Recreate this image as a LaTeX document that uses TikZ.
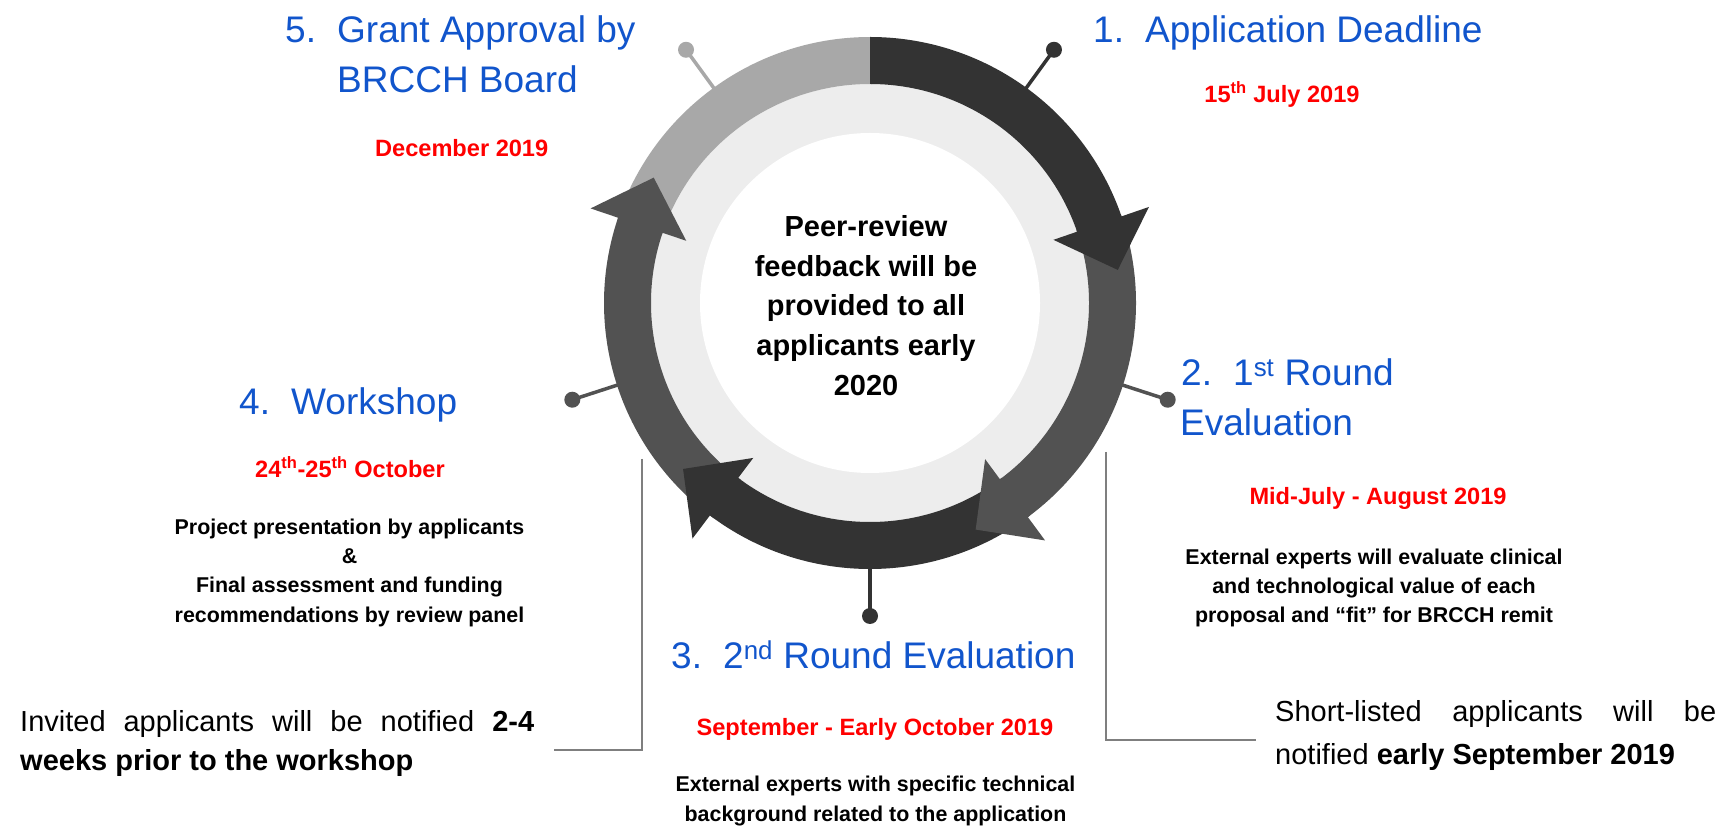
\documentclass[tikz,border=0pt]{standalone}
\usepackage{fontspec}
\setmainfont{Liberation Sans}
\definecolor{segdark}{HTML}{333333}
\definecolor{segmid}{HTML}{525252}
\definecolor{seglight}{HTML}{A8A8A8}
\definecolor{innerring}{HTML}{EDEDED}
\definecolor{titleblue}{HTML}{1155CC}
\definecolor{datered}{HTML}{FF0000}
\definecolor{bracketgray}{HTML}{7F7F7F}
\tikzset{
 titletext/.style={anchor=base west, inner sep=0pt, text=titleblue, font=\fontsize{37}{44}\selectfont},
 datetext/.style={anchor=base, inner sep=0pt, text=datered, font=\bfseries\fontsize{23.6}{28}\selectfont},
 desctext/.style={anchor=base, inner sep=0pt, font=\bfseries\fontsize{21.4}{26}\selectfont},
 centertext/.style={anchor=base, inner sep=0pt, font=\bfseries\fontsize{29}{34}\selectfont},
 notetext/.style={anchor=base west, inner sep=0pt, font=\fontsize{29}{34}\selectfont},
 dotnode/.style={circle, inner sep=0pt, minimum size=16pt},
 stemline/.style={line width=3.5pt},
 bracket/.style={draw=bracketgray, line width=2pt},
}
\newcommand{\numlabel}[1]{\makebox[52pt][l]{#1}}
% colour, start angle, head base angle, tip angle
\newcommand{\ringseg}[4]{%
 \fill[#1] (#2:266pt) arc[start angle=#2, end angle=#3, radius=266pt]
   -- (#3:295pt) -- (#4:250pt) -- (#3:194pt) -- (#3:219pt)
   arc[start angle=#3, end angle=#2, radius=219pt] -- cycle;}
\begin{document}
\begin{tikzpicture}[x=1pt,y=1pt]
\useasboundingbox (0,0) rectangle (1731,827);
\fill[white] (0,0) rectangle (1731,827);
\begin{scope}[shift={(870,524)}]
 \fill[innerring] (0,0) circle[radius=219pt];
 \fill[white] (0,0) circle[radius=170pt];
 % dots and stems
 \node[dotnode, fill=segdark] (dot1) at (54:313pt) {};
 \node[dotnode, fill=segmid] (dot2) at (-18:313pt) {};
 \node[dotnode, fill=segdark] (dot3) at (-90:313pt) {};
 \node[dotnode, fill=segmid] (dot4) at (198:313pt) {};
 \node[dotnode, fill=seglight] (dot5) at (126:313pt) {};
 \coordinate (s1) at (54:258pt);
 \coordinate (s2) at (-18:258pt);
 \coordinate (s3) at (-90:258pt);
 \coordinate (s4) at (198:258pt);
 \coordinate (s5) at (126:258pt);
 \draw[stemline, segdark] (s1) -- (dot1.center);
 \draw[stemline, segmid] (s2) -- (dot2.center);
 \draw[stemline, segdark] (s3) -- (dot3.center);
 \draw[stemline, segmid] (s4) -- (dot4.center);
 \draw[stemline, seglight] (s5) -- (dot5.center);
 % ring segments (drawn 5,4,3,2,1)
 \fill[seglight] (162:266pt) arc[start angle=162, end angle=89.5, radius=266pt]
   -- (89.5:219pt) arc[start angle=89.5, end angle=162, radius=219pt] -- cycle;
 \ringseg{segmid}{-126}{-198.7}{-210.1}
 \ringseg{segdark}{-53}{-127}{-138.4}
 \ringseg{segmid}{19.5}{-53.6}{-65}
 \ringseg{segdark}{90}{19}{7.6}
\end{scope}
% centre text
\node[centertext] (c1) at (866,590) {Peer-review};
\node[centertext] (c2) at (866,550) {feedback will be};
\node[centertext] (c3) at (866,511) {provided to all};
\node[centertext] (c4) at (866,471) {applicants early};
\node[centertext] (c5) at (866,431) {2020};
% step 1
\node[titletext] (t1) at (1093,784) {\numlabel{1.}Application Deadline};
\node[datetext] (d1) at (1282,724) {15\textsuperscript{th} July 2019};
% step 2
\node[titletext] (t2a) at (1181,441) {\numlabel{2.}1\textsuperscript{st} Round};
\node[titletext] (t2b) at (1180,391) {Evaluation};
\node[datetext] (d2) at (1378,322) {Mid-July - August 2019};
\node[desctext] (e2a) at (1374,262) {External experts will evaluate clinical};
\node[desctext] (e2b) at (1374,233) {and technological value of each};
\node[desctext] (e2c) at (1374,204) {proposal and “fit” for BRCCH remit};
% step 3
\node[titletext] (t3) at (671,158) {\numlabel{3.}2\textsuperscript{nd} Round Evaluation};
\node[datetext] (d3) at (875,92) {September - Early October 2019};
\node[desctext] (e3a) at (875.5,35.5) {External experts with specific technical};
\node[desctext] (e3b) at (875.5,5.5) {background related to the application};
% step 4
\node[titletext] (t4) at (239,412) {\numlabel{4.}Workshop};
\node[datetext] (d4) at (350,349) {24\textsuperscript{th}-25\textsuperscript{th} October};
\node[desctext] (e4a) at (349.5,292) {Project presentation by applicants};
\node[desctext] (e4b) at (349.5,263) {\&};
\node[desctext] (e4c) at (349.5,234) {Final assessment and funding};
\node[desctext] (e4d) at (349.5,204) {recommendations by review panel};
% step 5
\node[titletext] (t5a) at (285,784) {\numlabel{5.}Grant Approval by};
\node[titletext] (t5b) at (337,734) {BRCCH Board};
\node[datetext] (d5) at (461.7,670.3) {December 2019};
% notes
\node[notetext] (n4a) at (20,95.3) {\makebox[514pt][s]{Invited applicants will be notified \textbf{2-4}}};
\node[notetext] (n4b) at (20,57) {\textbf{weeks prior to the workshop}};
\node[notetext] (n2a) at (1275,105) {\makebox[441pt][s]{Short-listed applicants will be}};
\node[notetext] (n2b) at (1275,63) {notified \textbf{early September 2019}};
% brackets
\coordinate (bl1) at (641.7,368);
\coordinate (bl2) at (641.7,77);
\coordinate (bl3) at (554,77);
\draw[bracket] (bl1) -- (bl2) -- (bl3);
\coordinate (br1) at (1106,375);
\coordinate (br2) at (1106,87);
\coordinate (br3) at (1256,87);
\draw[bracket] (br1) -- (br2) -- (br3);
\end{tikzpicture}
\end{document}
